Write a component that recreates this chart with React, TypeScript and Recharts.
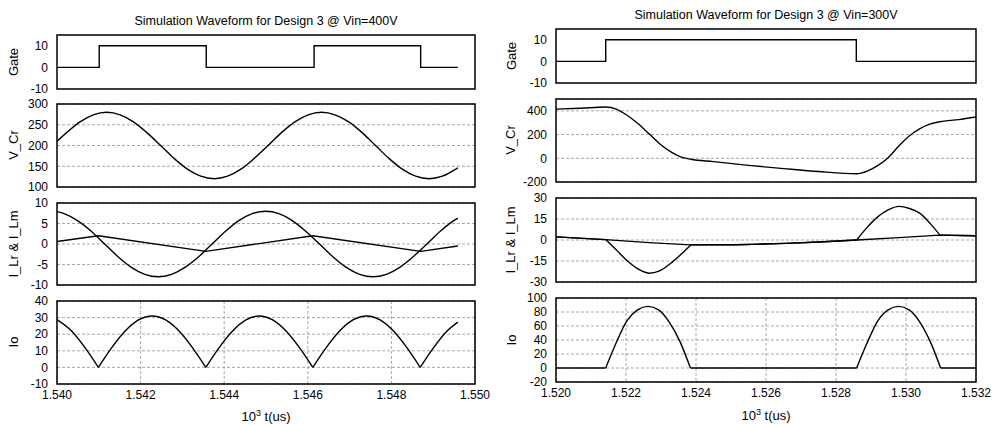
import React from "react";
import {
  CartesianGrid,
  Line,
  LineChart,
  ReferenceArea,
  XAxis,
  YAxis,
} from "recharts";

// Time axis is in 10^3 us. Left panel: Vin = 400V, right panel: Vin = 300V.

const L_X_TICKS = [1.54, 1.542, 1.544, 1.546, 1.548, 1.55];
const R_X_TICKS = [1.52, 1.522, 1.524, 1.526, 1.528, 1.53, 1.532];

// --- Vin = 400V ---
const L_GATE_T = [1.54, 1.54101, 1.54101, 1.54357, 1.54357, 1.54615, 1.54615, 1.5487, 1.5487, 1.54959];
const L_GATE_V = [0, 0, 10, 10, 0, 0, 10, 10, 0, 0];

const L_VCR_T = [
  1.54, 1.54023, 1.54055, 1.54087, 1.54119, 1.54151, 1.54183, 1.54215, 1.54248, 1.5428,
  1.54312, 1.54344, 1.54376, 1.54408, 1.5444, 1.54472, 1.54505, 1.54537, 1.54569, 1.54601,
  1.54633, 1.54665, 1.54698, 1.5473, 1.54762, 1.54794, 1.54826, 1.54858, 1.5489, 1.54922, 1.54959,
];
const L_VCR_V = [
  210, 231, 257, 274, 280, 274, 257, 231, 200, 169,
  143, 126, 120, 126, 143, 169, 200, 231, 257, 274,
  280, 274, 257, 231, 200, 169, 143, 126, 120, 126, 146,
];

const L_ILR_T = [
  1.54, 1.54017, 1.54049, 1.54082, 1.54114, 1.54146, 1.54178, 1.5421, 1.54242, 1.54274,
  1.54306, 1.54339, 1.54371, 1.54403, 1.54435, 1.54467, 1.54499, 1.54531, 1.54563, 1.54595,
  1.54628, 1.5466, 1.54692, 1.54724, 1.54756, 1.54788, 1.5482, 1.54852, 1.54885, 1.54917,
  1.54949, 1.54959,
];
const L_ILR_V = [
  7.9, 7.4, 5.7, 3.1, 0, -3.1, -5.7, -7.4, -8, -7.4,
  -5.7, -3.1, 0, 3.1, 5.7, 7.4, 8, 7.4, 5.7, 3.1,
  0, -3.1, -5.7, -7.4, -8, -7.4, -5.7, -3.1, 0, 3.1,
  5.7, 6.3,
];

const L_ILM_T = [1.54, 1.54099, 1.54356, 1.54612, 1.5487, 1.54959];
const L_ILM_V = [0.6, 2.0, -1.8, 2.0, -1.8, -0.5];

const L_IO_T = [
  1.54, 1.54035, 1.54067, 1.54099, 1.54131, 1.54163, 1.54195, 1.54228, 1.5426, 1.54292,
  1.54324, 1.54356, 1.54388, 1.5442, 1.54452, 1.54484, 1.54516, 1.54548, 1.5458, 1.54612,
  1.54644, 1.54676, 1.54708, 1.54741, 1.54773, 1.54805, 1.54837, 1.54869, 1.54901, 1.54933,
  1.54959,
];
const L_IO_V = [
  28.8, 21.9, 11.9, 0, 11.9, 21.9, 28.6, 31, 28.6, 21.9,
  11.9, 0, 11.9, 21.9, 28.6, 31, 28.6, 21.9, 11.9, 0,
  11.9, 21.9, 28.6, 31, 28.6, 21.9, 11.9, 0, 11.9, 21.9,
  27.3,
];
// rectifier hand-over instants: the curve has a corner here
const L_IO_KNEES = [1.54099, 1.54356, 1.54612, 1.54869];

// --- Vin = 300V ---
const R_GATE_T = [1.52, 1.52142, 1.52142, 1.52858, 1.52858, 1.532];
const R_GATE_V = [0, 0, 10, 10, 0, 0];

const R_VCR_T = [
  1.52, 1.5207, 1.52142, 1.52172, 1.52202, 1.52233, 1.52266, 1.52296, 1.52326, 1.52356,
  1.52385, 1.5245, 1.5255, 1.5265, 1.5275, 1.52859, 1.52889, 1.52919, 1.52949, 1.5298,
  1.5301, 1.5304, 1.5307, 1.53097, 1.5315, 1.532,
];
const R_VCR_V = [
  415, 422, 432, 415, 365, 295, 206, 123, 58, 12,
  -8, -28, -60, -87, -112, -130, -108, -62, 5, 105,
  190, 250, 290, 308, 326, 348,
];

const R_ILR_T = [
  1.52, 1.52142, 1.52172, 1.52202, 1.52233, 1.52266, 1.52296, 1.52326, 1.52356, 1.52385,
  1.525, 1.5256, 1.52657, 1.52752, 1.52859, 1.52889, 1.52919, 1.52949, 1.5298, 1.5301,
  1.5304, 1.5307, 1.53097, 1.532,
];
const R_ILR_V = [
  2.2, 0.3, -7, -14.5, -20.5, -23.7, -22, -17, -10.5, -3.5,
  -3.4, -3.1, -2.4, -1.4, 0, 9, 16.5, 21.5, 24, 22.5,
  19, 11.5, 3.5, 3.0,
];
const R_ILR_KNEES = [1.52142, 1.52385, 1.52859, 1.53097];

const R_ILM_T = [1.52, 1.52142, 1.52266, 1.52385, 1.525, 1.5256, 1.52657, 1.52752, 1.52859, 1.5298, 1.53097, 1.532];
const R_ILM_V = [2.2, 0.3, -1.9, -3.5, -3.4, -3.1, -2.4, -1.4, 0, 1.7, 3.5, 3.0];

const R_IO_T = [
  1.52, 1.52142, 1.52172, 1.52202, 1.52233, 1.52263, 1.52293, 1.52323, 1.52354, 1.52384,
  1.52859, 1.52889, 1.52919, 1.52949, 1.52979, 1.53009, 1.53039, 1.53069, 1.53099, 1.532,
];
const R_IO_V = [0, 0, 36, 67, 83, 88, 83, 66, 38, 0, 0, 36, 67, 83, 88, 83, 66, 38, 0, 0];
const R_IO_KNEES = [1.52142, 1.52384, 1.52859, 1.53099];

const FONT = '"Liberation Sans", Arial, Helvetica, sans-serif';
const YW = 50; // room for y tick labels
const MT = 10;
const MB = 10;
const MR = 24;
const XH = 24;

type Pt = { t: number; v: number };
const zip = (ts: number[], vs: number[]): Pt[] => ts.map((t, i) => ({ t, v: vs[i] }));

// split a trace at its corner points so each smooth stretch is its own curve
function pieces(data: Pt[], knees: number[]): Pt[][] {
  const out: Pt[][] = [];
  let cur: Pt[] = [];
  data.forEach((p) => {
    cur.push(p);
    if (knees.includes(p.t) && cur.length > 1) {
      out.push(cur);
      cur = [p];
    }
  });
  if (cur.length > 1) out.push(cur);
  return out;
}

interface Series {
  data: Pt[];
  curve: "linear" | "monotone";
}

const smooth = (data: Pt[], knees: number[]): Series[] =>
  pieces(data, knees).map((d) => ({ data: d, curve: "monotone" }));

interface PlotProps {
  left: number;
  top: number;
  width: number;
  height: number;
  xDomain: [number, number];
  xTicks: number[];
  yDomain: [number, number];
  yTicks: number[];
  series: Series[];
  hGrid?: boolean;
  vGrid?: boolean;
  showX?: boolean;
}

function Plot(p: PlotProps) {
  const w = YW + p.width + MR;
  const h = MT + p.height + (p.showX ? XH : 0) + MB;
  const tick = { fill: "#000", fontSize: 12, fontFamily: FONT };
  return (
    <div style={{ position: "absolute", left: p.left - YW, top: p.top - MT }}>
      <LineChart width={w} height={h} margin={{ top: MT, right: MR, bottom: MB, left: 0 }}>
        {(p.hGrid || p.vGrid) && (
          <CartesianGrid
            horizontal={!!p.hGrid}
            vertical={!!p.vGrid}
            stroke="#a8a8a8"
            strokeDasharray="3 2"
          />
        )}
        <XAxis
          type="number"
          dataKey="t"
          domain={p.xDomain}
          ticks={p.xTicks}
          interval={0}
          allowDataOverflow
          hide={!p.showX}
          height={XH}
          tick={tick}
          tickLine={false}
          axisLine={false}
          tickSize={4}
          tickMargin={2}
          tickFormatter={(v: number) => v.toFixed(3)}
        />
        <YAxis
          type="number"
          domain={p.yDomain}
          ticks={p.yTicks}
          interval={0}
          allowDataOverflow
          width={YW}
          tick={tick}
          tickLine={false}
          axisLine={false}
          tickSize={6}
          tickMargin={3}
        />
        {p.series.map((s, i) => (
          <Line
            key={i}
            data={s.data}
            dataKey="v"
            type={s.curve}
            stroke="#000"
            strokeWidth={1.4}
            dot={false}
            activeDot={false}
            isAnimationActive={false}
          />
        ))}
        <ReferenceArea
          x1={p.xDomain[0]}
          x2={p.xDomain[1]}
          y1={p.yDomain[0]}
          y2={p.yDomain[1]}
          fill="none"
          fillOpacity={0}
          stroke="#000"
          strokeWidth={1.5}
        />
      </LineChart>
    </div>
  );
}

function VLabel({ x, y, text }: { x: number; y: number; text: string }) {
  return (
    <div
      style={{
        position: "absolute",
        left: x,
        top: y,
        transform: "translate(-50%, -50%) rotate(-90deg)",
        whiteSpace: "nowrap",
        fontSize: 13,
        lineHeight: "14px",
      }}
    >
      {text}
    </div>
  );
}

function Centered({ x, y, children, size }: { x: number; y: number; children: React.ReactNode; size: number }) {
  return (
    <div
      style={{
        position: "absolute",
        left: x,
        top: y,
        transform: "translate(-50%, -50%)",
        whiteSpace: "nowrap",
        fontSize: size,
        lineHeight: `${size + 2}px`,
      }}
    >
      {children}
    </div>
  );
}

const XTitle = () => (
  <span>
    10<span style={{ fontSize: 9, position: "relative", top: -5 }}>3</span> t(us)
  </span>
);

export default function App() {
  const lx: [number, number] = [1.54, 1.55];
  const rx: [number, number] = [1.52, 1.532];
  const LL = 57;
  const LW = 418;
  const RL = 556;
  const RW = 420;
  return (
    <div
      style={{
        position: "absolute",
        left: 0,
        top: 0,
        width: 995,
        height: 425,
        background: "#fff",
        fontFamily: FONT,
        color: "#000",
        overflow: "hidden",
      }}
    >
      {/* left panel */}
      <Centered x={266} y={21} size={12.5}>Simulation Waveform for Design 3 @ Vin=400V</Centered>
      <Plot left={LL} top={35} width={LW} height={54} xDomain={lx} xTicks={L_X_TICKS}
        yDomain={[-10, 15]} yTicks={[-10, 0, 10]}
        series={[{ data: zip(L_GATE_T, L_GATE_V), curve: "linear" }]} />
      <Plot left={LL} top={104} width={LW} height={83} xDomain={lx} xTicks={L_X_TICKS}
        yDomain={[100, 300]} yTicks={[100, 150, 200, 250, 300]} hGrid
        series={[{ data: zip(L_VCR_T, L_VCR_V), curve: "monotone" }]} />
      <Plot left={LL} top={203} width={LW} height={82} xDomain={lx} xTicks={L_X_TICKS}
        yDomain={[-10, 10]} yTicks={[-10, -5, 0, 5, 10]} hGrid
        series={[
          { data: zip(L_ILR_T, L_ILR_V), curve: "monotone" },
          { data: zip(L_ILM_T, L_ILM_V), curve: "linear" },
        ]} />
      <Plot left={LL} top={301} width={LW} height={83} xDomain={lx} xTicks={L_X_TICKS}
        yDomain={[-10, 40]} yTicks={[-10, 0, 10, 20, 30, 40]} hGrid vGrid showX
        series={smooth(zip(L_IO_T, L_IO_V), L_IO_KNEES)} />
      <VLabel x={14} y={62} text="Gate" />
      <VLabel x={14} y={145} text="V_Cr" />
      <VLabel x={14} y={244} text="I_Lr & I_Lm" />
      <VLabel x={14} y={342} text="Io" />
      <Centered x={266} y={417} size={13}><XTitle /></Centered>

      {/* right panel */}
      <Centered x={766} y={15} size={12.5}>Simulation Waveform for Design 3 @ Vin=300V</Centered>
      <Plot left={RL} top={29} width={RW} height={54} xDomain={rx} xTicks={R_X_TICKS}
        yDomain={[-10, 15]} yTicks={[-10, 0, 10]}
        series={[{ data: zip(R_GATE_T, R_GATE_V), curve: "linear" }]} />
      <Plot left={RL} top={99} width={RW} height={83} xDomain={rx} xTicks={R_X_TICKS}
        yDomain={[-200, 500]} yTicks={[-200, 0, 200, 400]} hGrid
        series={[{ data: zip(R_VCR_T, R_VCR_V), curve: "monotone" }]} />
      <Plot left={RL} top={198} width={RW} height={84} xDomain={rx} xTicks={R_X_TICKS}
        yDomain={[-30, 30]} yTicks={[-30, -15, 0, 15, 30]} hGrid
        series={[
          ...smooth(zip(R_ILR_T, R_ILR_V), R_ILR_KNEES),
          { data: zip(R_ILM_T, R_ILM_V), curve: "linear" },
        ]} />
      <Plot left={RL} top={298} width={RW} height={84} xDomain={rx} xTicks={R_X_TICKS}
        yDomain={[-20, 100]} yTicks={[-20, 0, 20, 40, 60, 80, 100]} hGrid vGrid showX
        series={smooth(zip(R_IO_T, R_IO_V), R_IO_KNEES)} />
      <VLabel x={512} y={56} text="Gate" />
      <VLabel x={511} y={140} text="V_Cr" />
      <VLabel x={511} y={240} text="I_Lr & I_Lm" />
      <VLabel x={512} y={340} text="Io" />
      <Centered x={766} y={416} size={13}><XTitle /></Centered>
    </div>
  );
}
